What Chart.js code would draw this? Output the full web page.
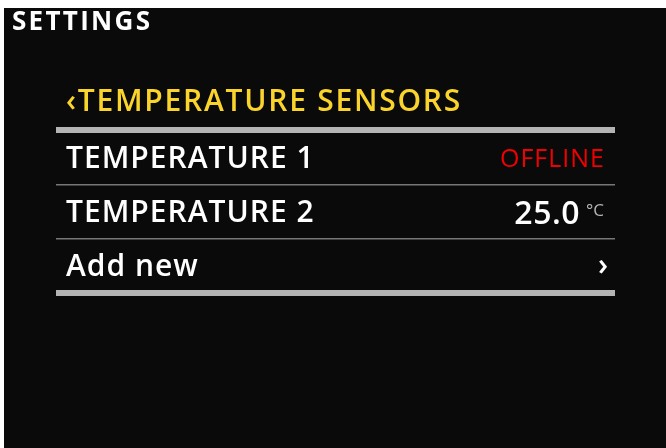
<!DOCTYPE html>
<html>
<head>
<meta charset="utf-8">
<script src="https://cdn.jsdelivr.net/npm/chart.js@4.4.0/dist/chart.umd.min.js"></script>
<style>
html, body { margin: 0; padding: 0; background: #ffffff; }
#wrap { position: absolute; left: 0; top: 0; width: 666px; height: 448px; }
</style>
</head>
<body>
<div id="wrap"><canvas id="c" width="666" height="448"></canvas></div>
<script>
// ---- content ----
const screenTitle = 'SETTINGS';
const sectionTitle = '‹TEMPERATURE SENSORS';
const sensorNames = ['TEMPERATURE 1', 'TEMPERATURE 2', 'Add new'];
const sensorReadings = [null, 25.0, null];
const sensorStatus = ['OFFLINE', null, '›'];
const readingUnit = '°C';

const FONT = '"Open Sans", Lato, sans-serif';

const screenPlugin = {
  id: 'screenChrome',
  beforeDraw(chart) {
    const ctx = chart.ctx;
    ctx.save();
    ctx.fillStyle = '#ffffff';
    ctx.fillRect(0, 0, chart.width, chart.height);
    ctx.fillStyle = '#0a0a0a';
    ctx.fillRect(4, 8, chart.width - 4, chart.height - 8);
    ctx.textBaseline = 'alphabetic';
    ctx.textAlign = 'left';
    ctx.fillStyle = '#ffffff';
    ctx.font = '700 26px ' + FONT;
    ctx.letterSpacing = '2.3px';
    ctx.fillText(screenTitle, 12, 30);
    ctx.fillStyle = '#fbd42b';
    ctx.font = '600 30px ' + FONT;
    ctx.letterSpacing = '1.75px';
    ctx.fillText(sectionTitle, 66, 111);
    ctx.restore();
    // spacing used by the axis tick labels (row names)
    ctx.letterSpacing = '1px';
  },
  afterDraw(chart) {
    const ctx = chart.ctx;
    const yScale = chart.scales.y;
    const right = chart.chartArea.right - 11;
    ctx.save();
    ctx.letterSpacing = '0px';
    ctx.textAlign = 'right';
    ctx.textBaseline = 'alphabetic';
    sensorNames.forEach((name, i) => {
      const yc = yScale.getPixelForValue(i);
      const status = sensorStatus[i];
      const reading = sensorReadings[i];
      if (reading !== null && reading !== undefined) {
        ctx.font = '17px ' + FONT;
        ctx.fillStyle = '#b4b4b4';
        ctx.fillText(readingUnit, right, yc + 4);
        const uw = ctx.measureText(readingUnit).width;
        ctx.font = '600 32px ' + FONT;
        ctx.letterSpacing = '0.5px';
        ctx.fillStyle = '#ffffff';
        ctx.fillText(reading.toFixed(1), right - uw - 6, yc + 12);
        ctx.letterSpacing = '0px';
      } else if (status === '›') {
        ctx.font = '600 30px ' + FONT;
        ctx.fillStyle = '#ffffff';
        ctx.fillText(status, right + 4, yc + 9);
      } else if (status) {
        ctx.font = '25px ' + FONT;
        ctx.letterSpacing = '1px';
        ctx.fillStyle = '#f00000';
        ctx.fillText(status, right + 1, yc + 10);
        ctx.letterSpacing = '0px';
      }
    });
    ctx.restore();
  }
};

new Chart(document.getElementById('c'), {
  type: 'bar',
  data: {
    labels: sensorNames,
    datasets: [{
      data: sensorReadings,
      backgroundColor: 'rgba(0,0,0,0)',
      borderWidth: 0
    }]
  },
  options: {
    indexAxis: 'y',
    responsive: false,
    animation: false,
    devicePixelRatio: 1,
    layout: { padding: { top: 130, bottom: 155, left: 36, right: 51 } },
    plugins: { legend: { display: false }, title: { display: false }, tooltip: { enabled: false } },
    scales: {
      x: { display: false, min: 0, max: 100 },
      y: {
        type: 'category',
        position: 'left',
        offset: true,
        border: { display: false },
        grid: {
          offset: true,
          drawTicks: false,
          tickLength: 0,
          color: c => (c.index === undefined || c.index === 0) ? '#b4b4b4' : '#777777',
          lineWidth: c => (c.index === undefined || c.index === 0) ? 6 : 1.5
        },
        ticks: {
          mirror: true,
          padding: 10,
          labelOffset: 2,
          color: '#ffffff',
          font: { family: FONT, size: 30, weight: '600' }
        }
      }
    }
  },
  plugins: [screenPlugin]
});
</script>
</body>
</html>
